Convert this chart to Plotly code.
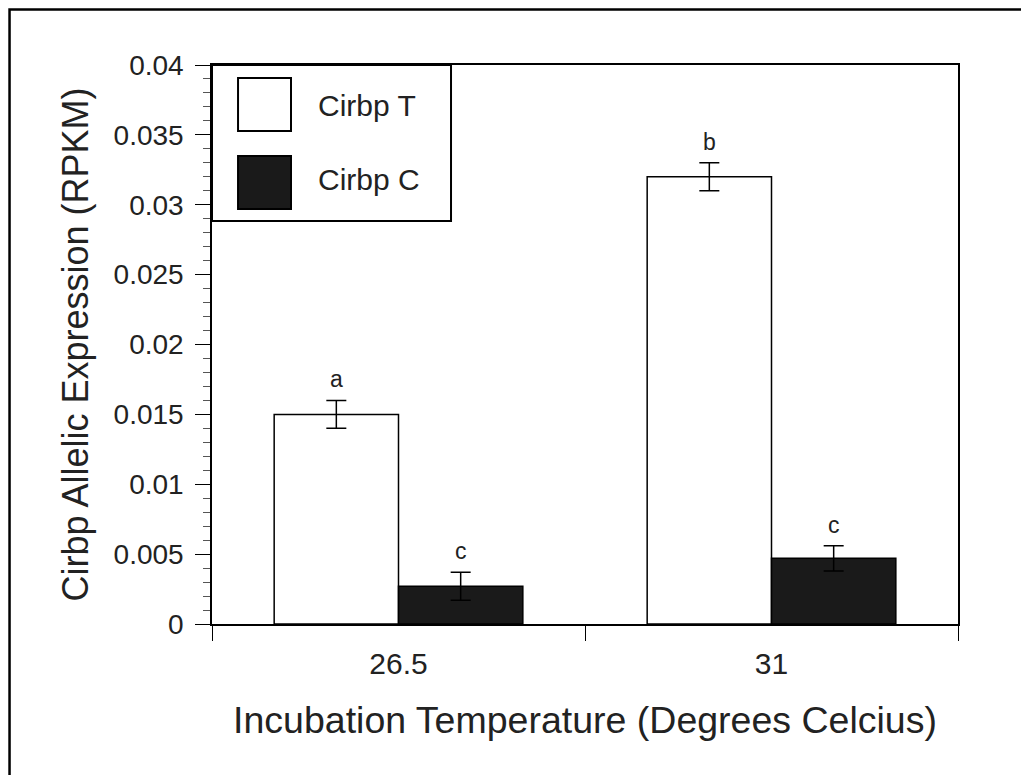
import plotly.graph_objects as go

categories = ["26.5", "31"]
series_names = ["Cirbp T", "Cirbp C"]
values_T = [0.015, 0.032]
errors_T = [0.001, 0.001]
values_C = [0.0027, 0.0047]
errors_C = [0.001, 0.0009]
letters_T = ["a", "b"]
letters_C = ["c", "c"]

FONT = "Liberation Sans, Arial, Helvetica, sans-serif"
TXT = "#222222"
xpos = list(range(len(categories)))

fig = go.Figure()
fig.add_trace(go.Bar(
    x=xpos, y=values_T, name=series_names[0],
    marker=dict(color="white", line=dict(color="black", width=1.5)),
    error_y=dict(type="data", array=errors_T, color="black", thickness=1.5, width=10),
    showlegend=False,
))
fig.add_trace(go.Bar(
    x=xpos, y=values_C, name=series_names[1],
    marker=dict(color="#1a1a1a", line=dict(color="black", width=1.5)),
    error_y=dict(type="data", array=errors_C, color="black", thickness=1.5, width=10),
    showlegend=False,
))

# significance letters above error bars
for i in xpos:
    fig.add_annotation(x=i - 1/6, y=values_T[i] + errors_T[i], text=letters_T[i],
                       showarrow=False, yanchor="bottom", yshift=6,
                       font=dict(family=FONT, size=23, color=TXT))
    fig.add_annotation(x=i + 1/6, y=values_C[i] + errors_C[i], text=letters_C[i],
                       showarrow=False, yanchor="bottom", yshift=6,
                       font=dict(family=FONT, size=23, color=TXT))

# manual legend (large swatches)
fig.add_shape(type="rect", xref="paper", yref="paper", x0=0, x1=0.3204, y0=0.7209, y1=1,
              line=dict(color="black", width=2), fillcolor="white", layer="above")
swatch_y = [(0.8819, 0.9767), (0.7424, 0.8372)]
swatch_fill = ["white", "#1a1a1a"]
label_y = [0.9284, 0.7943]
for k in range(2):
    fig.add_shape(type="rect", xref="paper", yref="paper", x0=0.0349, x1=0.1059,
                  y0=swatch_y[k][0], y1=swatch_y[k][1],
                  line=dict(color="black", width=2), fillcolor=swatch_fill[k], layer="above")
    fig.add_annotation(xref="paper", yref="paper", x=0.1394, y=label_y[k], text=series_names[k],
                       showarrow=False, xanchor="left", yanchor="middle",
                       font=dict(family=FONT, size=30, color=TXT))

# outer figure border (top and left edges)
fig.add_shape(type="path", xref="paper", yref="paper",
              path="M -0.2714,-0.3 L -0.2714,1.0993 L 1.2,1.0993",
              line=dict(color="black", width=2.5))

fig.update_layout(
    width=1021, height=767,
    margin=dict(l=204, r=71, t=57, b=151),
    paper_bgcolor="white", plot_bgcolor="white",
    barmode="group", bargap=1/3, bargroupgap=0,
    font=dict(family=FONT, color=TXT),
    showlegend=False,
)
fig.update_xaxes(
    range=[-0.5, 1.5], tickmode="array", tickvals=xpos, ticktext=categories,
    ticks="", showline=True, linecolor="black", linewidth=1.5, mirror=True,
    showgrid=False, zeroline=False, ticklabelstandoff=12,
    tickfont=dict(family=FONT, size=30, color=TXT),
    minor=dict(tickmode="array", tickvals=[-0.5, 0.5, 1.5], ticks="outside",
               ticklen=15, tickcolor="black", tickwidth=1.2),
    title=dict(text="Incubation Temperature (Degrees Celcius)",
               font=dict(family=FONT, size=37.5, color=TXT), standoff=28),
)
fig.update_yaxes(
    range=[0, 0.04], dtick=0.005, tick0=0, ticks="outside", ticklen=15,
    tickcolor="black", tickwidth=1.2,
    showline=True, linecolor="black", linewidth=1.5, mirror=True,
    showgrid=False, zeroline=False, ticklabelstandoff=6,
    tickfont=dict(family=FONT, size=28, color=TXT),
    minor=dict(dtick=0.001, ticks="outside", ticklen=7, tickcolor="#555555", tickwidth=1),
    title=dict(text="Cirbp Allelic Expression (RPKM)",
               font=dict(family=FONT, size=36, color=TXT), standoff=14),
)

fig.write_html("out.html")
